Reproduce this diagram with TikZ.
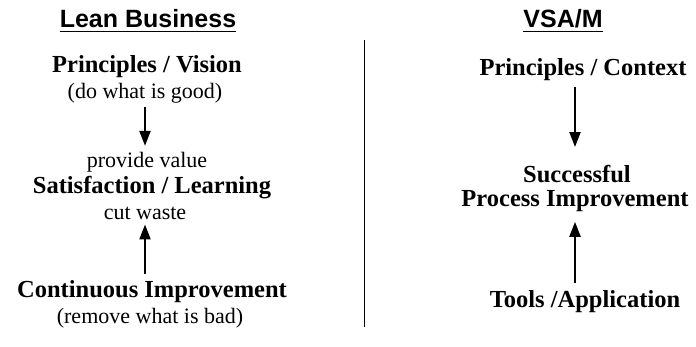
\documentclass[tikz,border=0pt]{standalone}
\usepackage{fontspec}
\setmainfont{Liberation Serif}
\newfontfamily\headfont{Liberation Sans}
\usetikzlibrary{positioning, arrows.meta}

\begin{document}
\begin{tikzpicture}[x=1pt, y=-1pt,
        head/.style={inner sep=0pt, font=\headfont\fontsize{25}{28}\selectfont\bfseries},
        bigtext/.style={inner sep=0pt, font=\fontsize{24.5}{27}\selectfont\bfseries, align=center},
        smalltext/.style={inner sep=0pt, font=\fontsize{22}{25}\selectfont},
        flow/.style={line width=2.2pt, -{Triangle[length=15pt, width=11pt]}}]
        \useasboundingbox (0,0) rectangle (696,347);

                % Draw the left column (Lean Business)
                \node[head] (lean) at (148,19) {Lean Business};
                \node[bigtext] (vision) at (147,67) {Principles / Vision};
                \node[smalltext] (good) at (145,93) {(do what is good)};
                \node[smalltext] (value) at (147,162) {provide value};
                \node[bigtext] (satis) at (152,188) {Satisfaction / Learning};
                \node[smalltext] (waste) at (145,213) {cut waste};
                \node[bigtext] (contimp) at (152,292) {Continuous Improvement};
                \node[smalltext] (bad) at (150,318) {(remove what is bad)};

                % Draw the right column (VSA/M)
                \node[head, anchor=base] (vsam) at (563,28) {VSA/M};
                \node[bigtext] (context) at (583,70) {Principles / Context};
                \node[bigtext] (success) at (577,174) {Successful};
                \node[bigtext] (procimp) at (575,201) {Process Improvement};
                \node[bigtext] (tools) at (585,302) {Tools /Application};

                % Draw the underlines of the headings
                \draw[line width=1.6pt] ([yshift=-3.5pt]lean.base west) -- ([yshift=-3.5pt]lean.base east);
                \draw[line width=1.6pt] ([yshift=-3.5pt]vsam.base west) -- ([yshift=-3.5pt]vsam.base east);

                % Draw the arrows
                \draw[flow, shorten <=4pt, shorten >=6pt] (good.south) -- (good.south |- value.north);
                \draw[flow, shorten <=7pt, shorten >=5pt] (contimp.north -| waste) -- (waste.south);
                \draw[flow, shorten <=6pt, shorten >=18pt] (context.south -| procimp) -- (success.north -| procimp);
                \draw[flow, shorten <=8pt, shorten >=10pt] (tools.north -| procimp) -- (procimp.south);

                % Draw the divider between the two columns
                \coordinate (divtop) at (364,40);
                \coordinate (divbot) at (364,327);
                \draw[line width=1pt] (divtop) -- (divbot);
\end{tikzpicture}
\end{document}
